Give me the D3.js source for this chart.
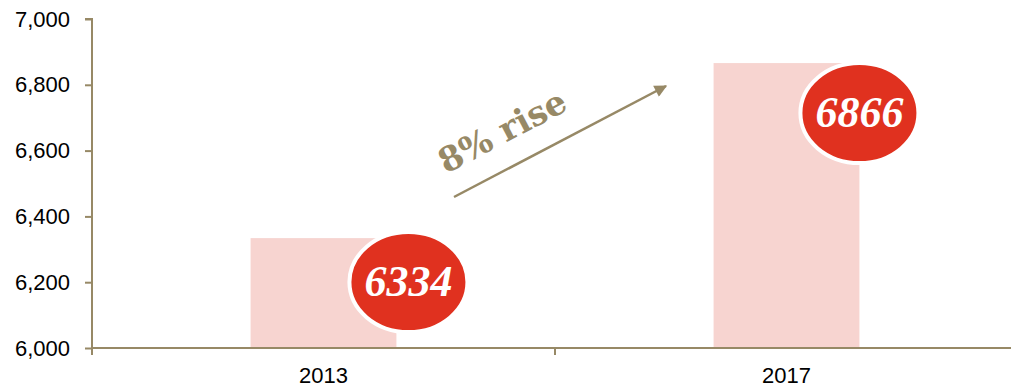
<!DOCTYPE html>
<html>
<head>
<meta charset="utf-8">
<script src="https://cdn.jsdelivr.net/npm/d3@7"></script>
<style>
  html, body { margin: 0; padding: 0; background: #fff; }
  svg { display: block; }
</style>
</head>
<body>
<svg id="chart" width="1011" height="387"></svg>
<script>
// Chart data
const years = ["2013", "2017"];
const counts = [6334, 6866];
const yTicks = [6000, 6200, 6400, 6600, 6800, 7000];
const riseLabel = "8% rise";

const W = 1011, H = 387;
const axisColor = "#978966";
const barColor = "#f7d4d0";
const badgeColor = "#e0311f";

const svg = d3.select("#chart");

const x = d3.scaleBand().domain(years).range([92, 1018]).paddingInner(0.685).paddingOuter(0.3425);
const y = d3.scaleLinear().domain([6000, 7000]).range([348, 19]);

// Bars
svg.append("g").selectAll("rect")
  .data(years)
  .join("rect")
  .attr("x", d => x(d))
  .attr("y", (d, i) => y(counts[i]))
  .attr("width", x.bandwidth())
  .attr("height", (d, i) => y(6000) - y(counts[i]))
  .attr("fill", barColor);

// Y axis
const yAxis = svg.append("g")
  .attr("transform", "translate(92,0)")
  .call(d3.axisLeft(y).tickValues(yTicks).tickFormat(d3.format(",")).tickSize(7).tickPadding(15));
yAxis.select(".domain").attr("stroke", axisColor).attr("stroke-width", 2).attr("d", `M-7,${y(7000)}H0V${y(6000)}`);
yAxis.selectAll(".tick line").attr("stroke", axisColor).attr("stroke-width", 2);
yAxis.selectAll(".tick text")
  .attr("fill", "#000")
  .style("font-family", "'Liberation Sans', Arial, sans-serif")
  .style("font-size", "22px");

// X axis (category boundaries as ticks)
const xAxisG = svg.append("g").attr("transform", `translate(0,${y(6000)})`);
xAxisG.append("line")
  .attr("x1", 92).attr("x2", W)
  .attr("stroke", axisColor).attr("stroke-width", 2);
const bounds = [x.range()[0], (x.range()[0] + x.range()[1]) / 2, x.range()[1]];
xAxisG.selectAll("line.tk")
  .data(bounds)
  .join("line")
  .attr("class", "tk")
  .attr("x1", d => d).attr("x2", d => d)
  .attr("y1", 0).attr("y2", 7)
  .attr("stroke", axisColor).attr("stroke-width", 2);
xAxisG.selectAll("text")
  .data(years)
  .join("text")
  .attr("x", d => x(d) + x.bandwidth() / 2)
  .attr("y", 35)
  .attr("text-anchor", "middle")
  .style("font-family", "'Liberation Sans', Arial, sans-serif")
  .style("font-size", "22px")
  .attr("fill", "#000")
  .text(d => d);

// Value badges beside each bar top
const badgeOffset = [{dx: 12, dy: 44}, {dx: 0, dy: 50}];
const badges = svg.append("g").selectAll("g")
  .data(years)
  .join("g")
  .attr("transform", (d, i) =>
    `translate(${x(d) + x.bandwidth() + badgeOffset[i].dx},${y(counts[i]) + badgeOffset[i].dy})`);
badges.append("ellipse")
  .attr("rx", 59).attr("ry", 50)
  .attr("fill", badgeColor)
  .attr("stroke", "#fff").attr("stroke-width", 4);
badges.append("text")
  .attr("text-anchor", "middle")
  .attr("y", 14)
  .attr("fill", "#fff")
  .style("font-family", "'Liberation Serif', 'Times New Roman', serif")
  .style("font-weight", "bold")
  .style("font-style", "italic")
  .style("font-size", "44px")
  .text((d, i) => counts[i]);

// Growth arrow
const defs = svg.append("defs");
defs.append("marker")
  .attr("id", "head")
  .attr("viewBox", "0 0 10 10")
  .attr("refX", 9).attr("refY", 5)
  .attr("markerWidth", 6).attr("markerHeight", 5)
  .attr("markerUnits", "strokeWidth")
  .attr("orient", "auto")
  .append("path")
  .attr("d", "M0,0L10,5L0,10Z")
  .attr("fill", axisColor);

const a0 = [454, 197], a1 = [666, 86];
svg.append("line")
  .attr("x1", a0[0]).attr("y1", a0[1])
  .attr("x2", a1[0]).attr("y2", a1[1])
  .attr("stroke", axisColor)
  .attr("stroke-width", 2.5)
  .attr("marker-end", "url(#head)");

const ang = Math.atan2(a1[1] - a0[1], a1[0] - a0[0]) * 180 / Math.PI;
svg.append("text")
  .attr("transform", `translate(446,174) rotate(${ang})`)
  .attr("fill", axisColor)
  .style("font-family", "'DejaVu Serif', Georgia, serif")
  .style("font-weight", "bold")
  .style("font-size", "34px")
  .text(riseLabel);
</script>
</body>
</html>
